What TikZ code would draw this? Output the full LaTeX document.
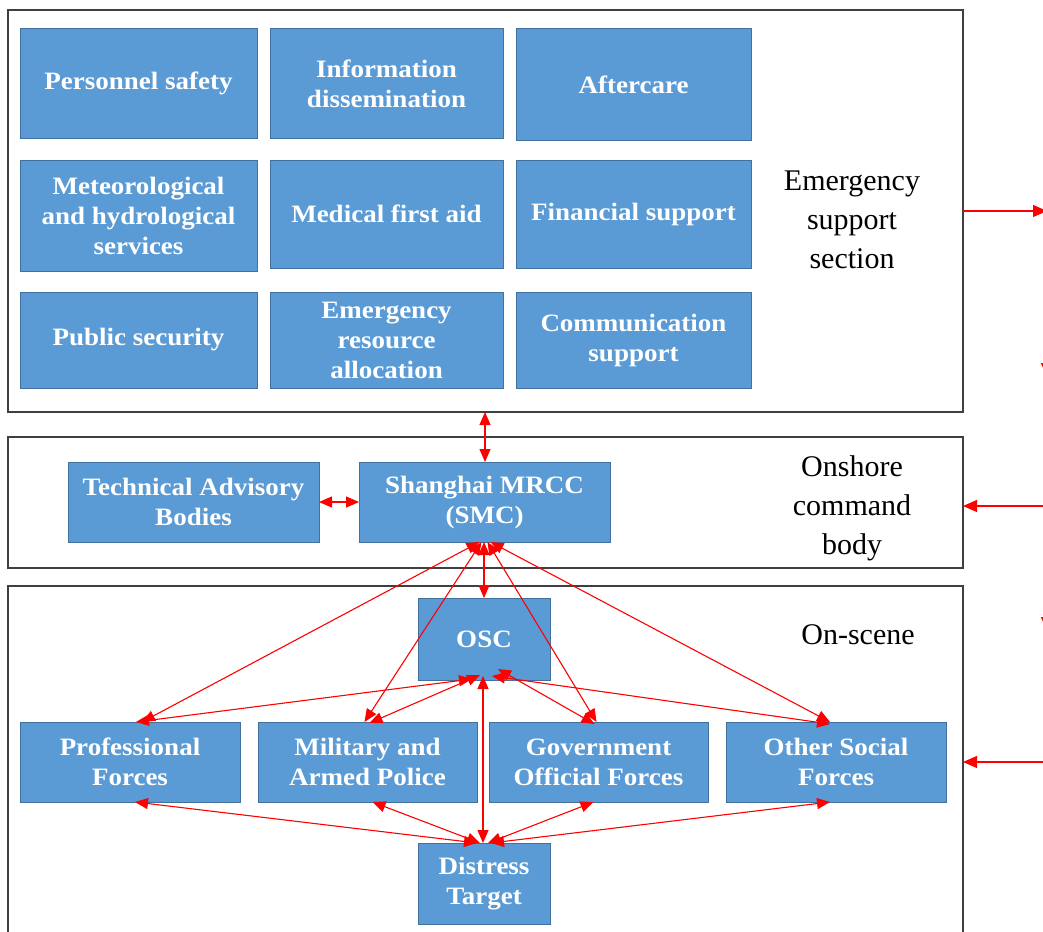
\documentclass[tikz,border=0pt]{standalone}
\usepackage{fontspec}
\setmainfont{Liberation Serif}
\newfontfamily\boxfont[FakeStretch=1.08]{Liberation Serif}
\usetikzlibrary{arrows.meta}
\definecolor{boxblue}{HTML}{5B9BD5}
\definecolor{boxedge}{HTML}{41719C}
\definecolor{secedge}{HTML}{3F3F3F}
\definecolor{arrred}{HTML}{FF0000}
\tikzset{
  bbox/.style={draw=boxedge, fill=boxblue, line width=1pt, inner sep=0pt, outer sep=0pt,
    align=center, text=white, font=\boxfont\bfseries\fontsize{25}{30}\selectfont},
  secbox/.style={draw=secedge, line width=1.5pt, inner sep=0pt, outer sep=0pt},
  seclabel/.style={align=center, font=\fontsize{30}{39}\selectfont, inner sep=0pt},
  arr/.style={draw=arrred, line width=1.1pt, {Triangle[length=13pt,width=11pt]}-{Triangle[length=13pt,width=11pt]}},
  arrone/.style={draw=arrred, line width=1.1pt, -{Triangle[length=14pt,width=12pt]}}
}
\begin{document}
\begin{tikzpicture}[x=1pt,y=-1pt]
\useasboundingbox (0,0) rectangle (1043,931);
\clip (0,0) rectangle (1043,931);
% sections
\node[secbox, minimum width=955pt, minimum height=402pt] (sec1) at (485.5,211) {};
\node[secbox, minimum width=955pt, minimum height=131pt] (sec2) at (485.5,502.5) {};
\node[secbox, minimum width=955pt, minimum height=354pt] (sec3) at (485.5,763) {};
\node[seclabel] (esl) at (852,220) {Emergency\\support\\section};
\node[seclabel] (ocb) at (852,508) {Onshore\\command\\body};
\node[seclabel] (osl) at (858,635) {On-scene};
% emergency support boxes
\node[bbox, minimum width=237pt, minimum height=109pt] (ps) at (138.5,83.5) {Personnel safety};
\node[bbox, minimum width=233pt, minimum height=109pt] (id) at (386.5,83.5) {Information\\dissemination};
\node[bbox, minimum width=235pt, minimum height=111pt] (ac) at (633.5,84.5) {Aftercare};
\node[bbox, minimum width=237pt, minimum height=111pt] (mh) at (138.5,215.5) {Meteorological\\and hydrological\\services};
\node[bbox, minimum width=233pt, minimum height=108pt] (mf) at (386.5,214) {Medical first aid};
\node[bbox, minimum width=235pt, minimum height=108pt] (fs) at (633.5,214) {Financial support};
\node[bbox, minimum width=237pt, minimum height=96pt] (pu) at (138.5,340) {Public security};
\node[bbox, minimum width=233pt, minimum height=96pt] (er) at (386.5,340) {Emergency\\resource\\allocation};
\node[bbox, minimum width=235pt, minimum height=96pt] (cs) at (633.5,340) {Communication\\support};
% onshore
\node[bbox, minimum width=251pt, minimum height=80pt] (tab) at (193.5,502) {Technical Advisory\\Bodies};
\node[bbox, minimum width=251pt, minimum height=80pt] (smc) at (484.5,502) {Shanghai MRCC\\(SMC)};
% on-scene
\node[bbox, minimum width=132pt, minimum height=82pt] (osc) at (484,639) {OSC};
\node[bbox, minimum width=220pt, minimum height=80pt] (pf) at (130,762) {Professional\\Forces};
\node[bbox, minimum width=219pt, minimum height=80pt] (ma) at (367.5,762) {Military and\\Armed Police};
\node[bbox, minimum width=219pt, minimum height=80pt] (go) at (598.5,762) {Government\\Official Forces};
\node[bbox, minimum width=220pt, minimum height=80pt] (os) at (836,762) {Other Social\\Forces};
\node[bbox, minimum width=132pt, minimum height=81pt] (dt) at (484,883.5) {Distress\\Target};
% connectors
\draw[arr] (smc.north -| 485,0) -- (sec1.south -| 485,0);
\draw[arr] (tab.east) -- (smc.west);
\draw[arr] ([xshift=-5pt]smc.south) -- ([xshift=12pt]pf.north);
\draw[arr] ([xshift=-3pt]smc.south) -- ([xshift=-3pt]ma.north);
\draw[arr] (smc.south -| osc.north) -- (osc.north);
\draw[arr] ([xshift=3pt]smc.south) -- ([xshift=-2pt]go.north);
\draw[arr] ([xshift=6pt]smc.south) -- ([xshift=-6pt]os.north);
\draw[arr] ([xshift=-12pt,yshift=1pt]osc.south) -- ([xshift=6pt]pf.north);
\draw[arr] ([xshift=-4pt,yshift=5pt]osc.south) -- ([xshift=2pt,yshift=-1pt]ma.north);
\draw[arr] ([xshift=8pt,yshift=4pt]osc.south) -- ([xshift=-6pt,yshift=-2pt]os.north);
\draw[arr] ([xshift=14pt,yshift=11pt]osc.south) -- ([xshift=-4pt,yshift=-2pt]go.north);
\draw[arr] ([xshift=-1pt,yshift=4pt]osc.south) -- ([xshift=-1pt]dt.north);
\draw[arr] ([xshift=-7pt]dt.north) -- ([xshift=5pt]pf.south);
\draw[arr] ([xshift=-4pt]dt.north) -- ([xshift=5pt]ma.south);
\draw[arr] ([xshift=4pt]dt.north) -- ([xshift=-5pt]go.south);
\draw[arr] ([xshift=7pt]dt.north) -- ([xshift=-6pt]os.south);
% right-side arrows
\coordinate (r1) at (1047,211);
\coordinate (r2) at (1050,506);
\coordinate (r3) at (1050,762);
\coordinate (r4a) at (1047,330);
\coordinate (r4b) at (1047,377);
\coordinate (r5a) at (1047,590);
\coordinate (r5b) at (1047,631);
\draw[arrone] (sec1.east |- r1) -- (r1);
\draw[arrone] (r2) -- (sec2.east |- r2);
\draw[arrone] (r3) -- (sec3.east |- r3);
\draw[arrone] (r4a) -- (r4b);
\draw[arrone] (r5a) -- (r5b);
\end{tikzpicture}
\end{document}
